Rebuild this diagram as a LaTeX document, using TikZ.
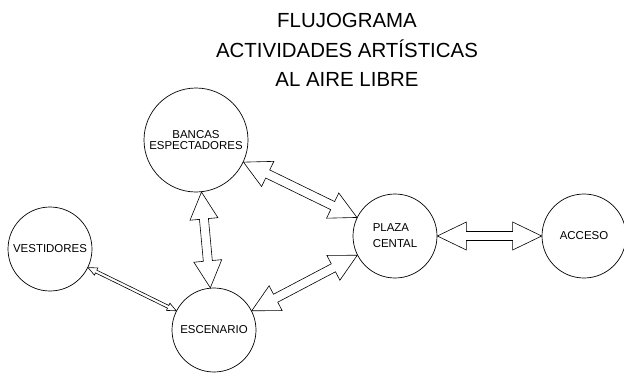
\documentclass[tikz,border=0pt]{standalone}
\usepackage{fontspec}
\setmainfont{Liberation Sans}
\usepackage{tikz}
\usetikzlibrary{calc}
\tikzset{
  estacion/.style={circle,draw=black,line width=0.7pt,inner sep=0pt,minimum size=84bp,
    font=\fontsize{11.5}{12}\selectfont},
  flecha/.style={draw=black,fill=white,line width=0.6pt,line join=miter},
  titulo/.style={align=center,font=\fontsize{20.5}{29.5}\selectfont}
}
% #1, #2: nodos; #3: medio ancho del cuerpo; #4: medio ancho de la punta; #5: largo de la punta
\newcommand{\flechadoble}[5]{%
  \path let \p1=($(#2.center)-(#1.center)$), \n1={atan2(\y1,\x1)}, \n2={\n1+180} in
    (#1.\n1) coordinate (fa) (#2.\n2) coordinate (fb);
  \path ($(fa)!#5!(fb)$) coordinate (ba) ($(fb)!#5!(fa)$) coordinate (bb);
  \draw[flecha] (fa) -- ($(ba)!#4!90:(fb)$) -- ($(ba)!#3!90:(fb)$)
    -- ($(bb)!#3!-90:(fa)$) -- ($(bb)!#4!-90:(fa)$) -- (fb)
    -- ($(bb)!#4!90:(fa)$) -- ($(bb)!#3!90:(fa)$)
    -- ($(ba)!#3!-90:(fb)$) -- ($(ba)!#4!-90:(fb)$) -- cycle;
}

\begin{document}
\begin{tikzpicture}[x=1bp,y=-1bp]
  \useasboundingbox[fill=white] (0,0) rectangle (624,374);
  \node[titulo] (titulo) at (347,50) {FLUJOGRAMA\\ACTIVIDADES ARTÍSTICAS\\AL AIRE LIBRE};

  \node[estacion,minimum size=104bp,align=center,font=\fontsize{11.5}{11}\selectfont]
    (bancas) at (196,140) {BANCAS\\ESPECTADORES};
  \node[estacion] (vestidores) at (50,249) {VESTIDORES};
  \node[estacion] (escenario) at (214,330) {ESCENARIO};
  \node[estacion,align=left,font=\fontsize{11.5}{16}\selectfont]
    (plaza) at (395,236) {PLAZA\\CENTAL};
  \node[estacion] (acceso) at (584,236) {ACCESO};

  \flechadoble{bancas}{escenario}{4.5bp}{14bp}{27bp}
  \flechadoble{bancas}{plaza}{4.5bp}{14bp}{27bp}
  \flechadoble{escenario}{plaza}{4.5bp}{14bp}{27bp}
  \flechadoble{plaza}{acceso}{4.5bp}{14bp}{29bp}
  \flechadoble{vestidores}{escenario}{1.5bp}{4bp}{9bp}
\end{tikzpicture}
\end{document}
